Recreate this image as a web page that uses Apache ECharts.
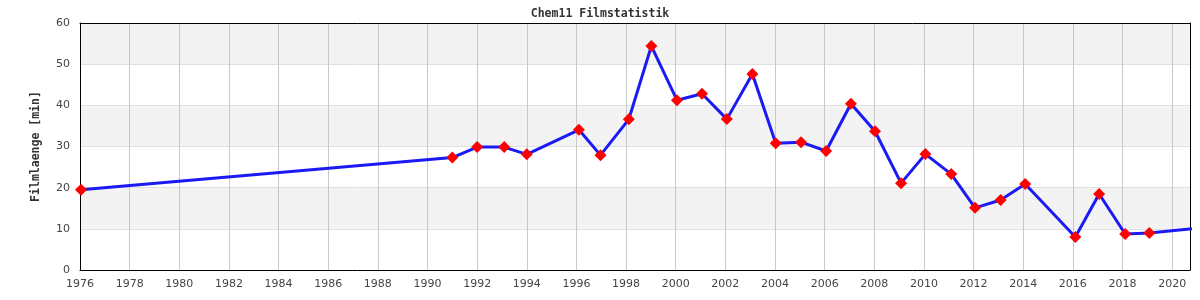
<!DOCTYPE html>
<html>
<head>
<meta charset="utf-8">
<script src="https://cdn.jsdelivr.net/npm/echarts@6/dist/echarts.min.js"></script>
<style>
  html, body { margin: 0; padding: 0; background: #fff; }
  #chart { width: 1200px; height: 300px; }
</style>
</head>
<body>
<div id="chart"></div>
<script>
// Film release dates (fractional years) and film lengths in minutes
const years = [1976.04, 1991.0, 1992.0, 1993.09, 1994.0, 1996.1, 1996.97, 1998.11, 1999.02,
  2000.05, 2001.06, 2002.06, 2003.09, 2004.03, 2005.05, 2006.06, 2007.06, 2008.03, 2009.08,
  2010.06, 2011.1, 2012.06, 2013.09, 2014.08, 2016.1, 2017.06, 2018.11, 2019.08, 2022.1];
const lengths = [19.5, 27.3, 29.85, 29.85, 28.1, 34.05, 27.9, 36.6, 54.4,
  41.25, 42.8, 36.65, 47.6, 30.8, 31.05, 28.9, 40.4, 33.7, 21.1,
  28.15, 23.3, 15.1, 17.0, 20.9, 8.0, 18.45, 8.75, 9.0, 10.8];
const titleText = 'Chem11 Filmstatistik';
const yName = 'Filmlaenge [min]';
const xMin = 1976, xMax = 2020.72, yMin = 0, yMax = 60;

const points = years.map((y, i) => [y, lengths[i]]);

const frameAxisX = {
  type: 'value', min: xMin, max: xMax, position: 'top',
  axisLine: { show: true, onZero: false, lineStyle: { color: '#000', width: 1 } },
  axisTick: { show: false }, axisLabel: { show: false }, splitLine: { show: false }
};
const frameAxisY = {
  type: 'value', min: yMin, max: yMax, position: 'right',
  axisLine: { show: true, onZero: false, lineStyle: { color: '#000', width: 1 } },
  axisTick: { show: false }, axisLabel: { show: false }, splitLine: { show: false }
};

const chart = echarts.init(document.getElementById('chart'), null, { renderer: 'canvas' });
chart.setOption({
  animation: false,
  backgroundColor: '#fff',
  title: {
    text: titleText,
    left: 'center',
    top: 3,
    textStyle: { fontFamily: 'DejaVu Sans Mono', fontWeight: 'bold', fontSize: 11.5, color: '#333' }
  },
  grid: { left: 80, right: 10, top: 23, bottom: 30 },
  xAxis: [{
    type: 'value',
    min: xMin, max: xMax, interval: 2,
    axisLine: { show: true, onZero: false, lineStyle: { color: '#000', width: 1 } },
    axisTick: { show: false },
    axisLabel: {
      color: '#444', fontSize: 11, fontFamily: 'DejaVu Sans', margin: 9,
      formatter: v => (Math.abs(v - Math.round(v)) < 1e-6 ? String(Math.round(v)) : '')
    },
    splitLine: { show: true, lineStyle: { color: '#c8c8c8', width: 1 } }
  }, frameAxisX],
  yAxis: [{
    type: 'value',
    min: yMin, max: yMax, interval: 10,
    name: yName,
    nameLocation: 'middle',
    nameGap: 38,
    nameRotate: 90,
    nameTextStyle: { fontFamily: 'DejaVu Sans Mono', fontWeight: 'bold', fontSize: 11.5, color: '#333' },
    axisLine: { show: true, onZero: false, lineStyle: { color: '#000', width: 1 } },
    axisTick: { show: false },
    axisLabel: { color: '#444', fontSize: 11, fontFamily: 'DejaVu Sans', margin: 10 },
    splitLine: { show: true, lineStyle: { color: '#e0e0e0', width: 1 } },
    splitArea: { show: true, areaStyle: { color: ['#ffffff', '#f3f3f3'] } }
  }, frameAxisY],
  series: [{
    type: 'line',
    data: points,
    xAxisIndex: 0,
    yAxisIndex: 0,
    clip: false,
    symbol: 'diamond',
    symbolSize: 12,
    showAllSymbol: true,
    itemStyle: { color: '#ff0000' },
    lineStyle: { color: '#1a1af5', width: 3 },
    z: 3
  }]
});
</script>
</body>
</html>
